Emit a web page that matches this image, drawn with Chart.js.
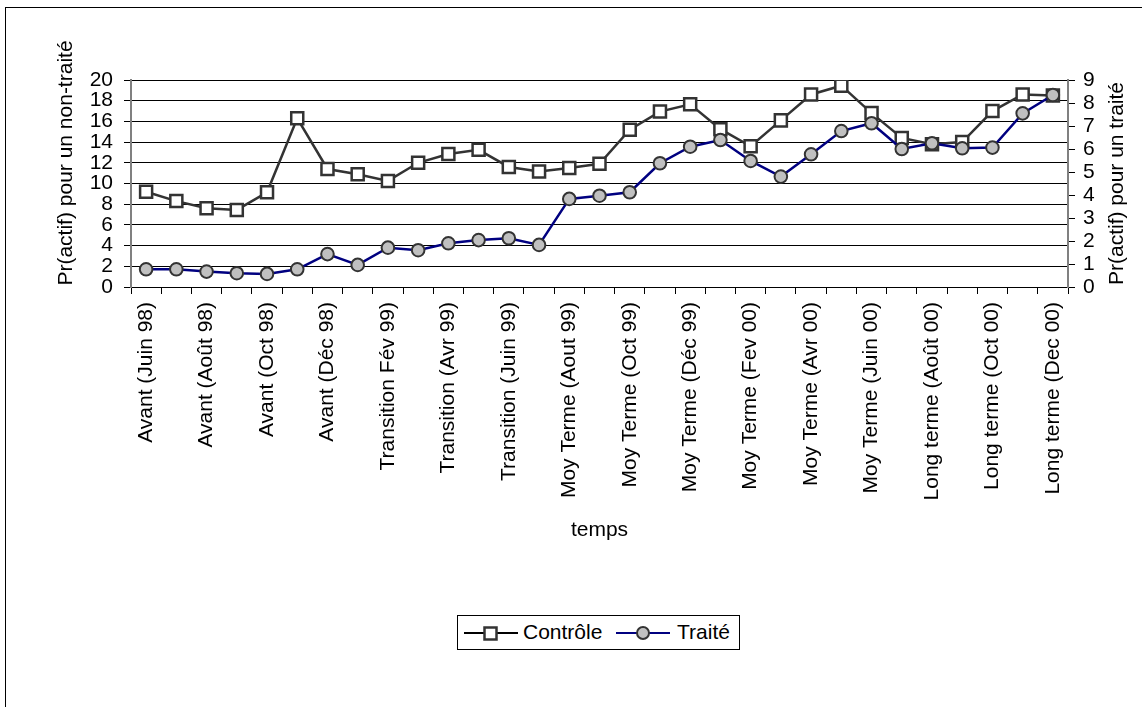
<!DOCTYPE html>
<html lang="fr">
<head>
<meta charset="utf-8">
<title>Pr(actif) - Contrôle / Traité</title>
<script src="https://cdn.jsdelivr.net/npm/chart.js@4/dist/chart.umd.min.js"></script>
<style>
    html, body { margin: 0; padding: 0; background: #fff; }
    body { width: 1142px; height: 707px; position: relative; overflow: hidden;
           font-family: 'Liberation Sans', Arial, sans-serif; }
    #frame { position: absolute; left: 5px; top: 7px; width: 1200px; height: 800px;
             border-left: 1px solid #000; border-top: 1px solid #000; }
    #myChart { position: absolute; left: 0; top: 0; }
    #legend { position: absolute; left: 457px; top: 615px; width: 283px; height: 35px;
              border: 1px solid #000; box-sizing: border-box; background: #fff; }
    #legend svg, #legend span { position: absolute; }
    #legend span { font-size: 21px; line-height: 24px; top: 4px; color: #000; }
</style>
</head>
<body>
<div id="frame"></div>
<canvas id="myChart" width="1142" height="707"></canvas>
<div id="legend">
    <svg style="left:5px; top:6px" width="56" height="22">
        <line x1="1" y1="11" x2="55" y2="11" stroke="#000" stroke-width="2"/>
        <rect x="21.5" y="5.5" width="12" height="12" fill="#fff" stroke="#333" stroke-width="2.5"/>
    </svg>
    <span style="left:65px">Contrôle</span>
    <svg style="left:157px; top:6px" width="56" height="22">
        <line x1="1" y1="11" x2="55" y2="11" stroke="#000080" stroke-width="2"/>
        <circle cx="28" cy="11" r="6" fill="#c0c0c0" stroke="#333" stroke-width="2"/>
    </svg>
    <span style="left:219px">Traité</span>
</div>
<script>
// étiquettes visibles (une sur deux sur l'axe)
const tickLabels = [
    'Avant (Juin 98)', 'Avant (Août 98)', 'Avant (Oct 98)', 'Avant (Déc 98)',
    'Transition Fév 99)', 'Transition (Avr 99)', 'Transition (Juin 99)',
    'Moy Terme (Aout 99)', 'Moy Terme (Oct 99)', 'Moy Terme (Déc 99)',
    'Moy Terme (Fev 00)', 'Moy Terme (Avr 00)', 'Moy Terme (Juin 00)',
    'Long terme (Août 00)', 'Long terme (Oct 00)', 'Long terme (Dec 00)'
];

const controle = [9.2, 8.3, 7.6, 7.45, 9.15, 16.3, 11.4, 10.9, 10.25, 12.0, 12.85,
    13.25, 11.6, 11.15, 11.5, 11.9, 15.2, 16.95, 17.65, 15.25, 13.6, 16.1, 18.6,
    19.45, 16.8, 14.4, 13.8, 14.0, 17.0, 18.6, 18.5];

const traite = [0.77, 0.77, 0.67, 0.6, 0.57, 0.77, 1.43, 0.96, 1.71, 1.6, 1.9,
    2.04, 2.12, 1.83, 3.83, 3.97, 4.12, 5.38, 6.1, 6.39, 5.48, 4.8, 5.77,
    6.78, 7.12, 6.0, 6.25, 6.03, 6.06, 7.55, 8.35];

const xTitle = 'temps';
const yLeftTitle = 'Pr(actif) pour un non-traité';
const yRightTitle = 'Pr(actif) pour un traité';

// 31 mois, un libellé tous les deux mois
const categories = controle.map((v, i) => (i % 2 === 0 ? tickLabels[i / 2] : ''));

document.addEventListener("DOMContentLoaded", function() {
    const ctx = document.getElementById('myChart').getContext('2d');
    const fontFamily = "'Liberation Sans', Arial, sans-serif";

    Chart.defaults.font.family = fontFamily;
    Chart.defaults.font.size = 21;
    Chart.defaults.color = '#000';

    // titres des axes verticaux, écrits de bas en haut des deux côtés
    const axisTitles = {
        id: 'axisTitles',
        afterDraw(chart) {
            const { ctx, chartArea } = chart;
            const items = [
                [66, 163, yLeftTitle],
                [1117, (chartArea.top + chartArea.bottom) / 2, yRightTitle]
            ];
            ctx.save();
            ctx.font = '21px ' + fontFamily;
            ctx.fillStyle = '#000';
            ctx.textAlign = 'center';
            ctx.textBaseline = 'middle';
            items.forEach(([x, y, text]) => {
                ctx.save();
                ctx.translate(x, y);
                ctx.rotate(-Math.PI / 2);
                ctx.fillText(text, 0, 0);
                ctx.restore();
            });
            ctx.restore();
        }
    };

    const data = {
        labels: categories,
        datasets: [
            {
                label: 'Contrôle',
                data: controle,
                yAxisID: 'y',
                order: 2,
                borderColor: '#333333',
                borderWidth: 2.5,
                pointStyle: 'rect',
                pointRadius: 8.5,
                pointBackgroundColor: '#ffffff',
                pointBorderColor: '#333333',
                pointBorderWidth: 2.5,
                tension: 0
            },
            {
                label: 'Traité',
                data: traite,
                yAxisID: 'y2',
                order: 1,
                borderColor: '#000080',
                borderWidth: 2.5,
                pointStyle: 'circle',
                pointRadius: 6.3,
                pointBackgroundColor: '#c0c0c0',
                pointBorderColor: '#333333',
                pointBorderWidth: 2,
                tension: 0
            }
        ]
    };

    const config = {
        type: 'line',
        data: data,
        plugins: [axisTitles],
        options: {
            responsive: false,
            animation: false,
            layout: {
                padding: { top: 80, left: 0, right: 0, bottom: 162 }
            },
            scales: {
                x: {
                    offset: true,
                    grid: {
                        offset: true,
                        drawOnChartArea: false,
                        tickLength: 7,
                        color: '#000'
                    },
                    border: { display: true, color: '#000', width: 1 },
                    ticks: {
                        autoSkip: false,
                        maxRotation: 90,
                        minRotation: 90,
                        padding: 8,
                        color: '#000'
                    },
                    title: {
                        display: true,
                        text: xTitle,
                        color: '#000',
                        padding: { top: 0, bottom: 2 }
                    },
                    afterFit: (scale) => {
                        scale.height = 258;
                        scale.paddingLeft = 0;
                        scale.paddingRight = 0;
                    }
                },
                y: {
                    position: 'left',
                    min: 0,
                    max: 20,
                    ticks: { stepSize: 2, autoSkip: false, padding: 11, color: '#000' },
                    grid: { color: '#000', lineWidth: 1, tickLength: 7 },
                    border: { display: true, color: '#808080', width: 2 },
                    afterFit: (scale) => {
                        scale.width = 131;
                        scale.paddingTop = 0;
                        scale.paddingBottom = 0;
                    }
                },
                y2: {
                    position: 'right',
                    min: 0,
                    max: 9,
                    ticks: { stepSize: 1, autoSkip: false, padding: 8, color: '#000' },
                    grid: { drawOnChartArea: false, color: '#000', tickLength: 7 },
                    border: { display: true, color: '#808080', width: 2 },
                    afterFit: (scale) => {
                        scale.width = 1142 - 1068;
                        scale.paddingTop = 0;
                        scale.paddingBottom = 0;
                    }
                }
            },
            plugins: {
                legend: { display: false },
                tooltip: { enabled: false }
            }
        }
    };

    const myChart = new Chart(ctx, config);
});
</script>
</body>
</html>
